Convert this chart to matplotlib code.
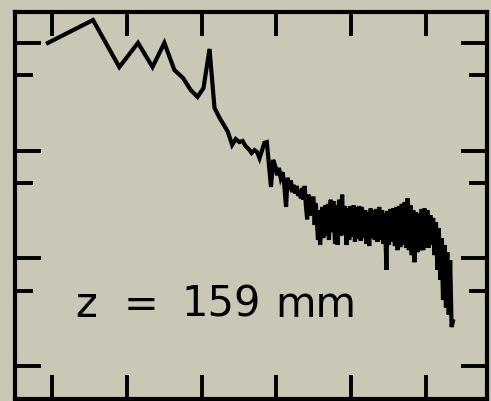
import matplotlib.pyplot as plt
import numpy as np
from matplotlib.ticker import FixedLocator, NullFormatter

# spectrum (log-log), low-frequency part: one point per bin
freq_low = [0.94, 1.88, 2.82, 3.76, 4.70, 5.64, 6.58, 7.52, 8.46, 9.40,
            10.3, 11.3, 12.2, 13.2, 14.1, 15.0, 16.0, 16.9, 17.9, 18.8,
            19.7, 20.7, 21.6, 22.6, 23.5, 24.4, 25.4, 26.3, 27.3, 28.2,
            29.1, 30.1, 31.0, 32.0, 32.9, 33.8, 34.8, 35.7, 36.7, 37.6,
            38.5, 39.5, 40.4, 41.4, 42.3, 43.2, 44.2, 45.1, 46.1, 47.0,
            47.9, 48.9, 49.8, 50.8, 51.7, 52.6, 53.6, 54.5]
psd_low = [1000, 1630, 597, 1000, 597, 1000, 560, 472, 365, 315,
           381, 878, 249, 201, 173, 149, 113, 128, 120, 123,
           110, 103, 95, 101, 97, 85, 101, 118, 120, 73,
           46, 82, 73, 59, 69, 56, 63, 48, 30, 56,
           43, 53, 41, 48, 40, 47, 38, 43, 36, 45,
           35, 47, 31, 23, 39, 35, 25, 36]

# high-frequency part: dense noisy band, sampled peak/trough
freq_high = [56, 57, 58, 60, 61, 62, 64, 65, 67, 68, 70, 71, 73, 74, 76, 78,
             80, 81, 83, 85, 87, 89, 91, 93, 95, 97, 99, 101, 104, 106, 108,
             111, 113, 116, 118, 121, 124, 126, 129, 132, 135, 138, 141, 144,
             147, 150, 154, 157, 161, 164, 168, 172, 175, 179, 183, 187, 191,
             196, 200, 204, 209, 213, 218, 223, 228, 233, 238, 243, 249, 254,
             260, 265, 271, 277, 283, 290, 296, 303, 309, 316, 323, 330, 338,
             345, 353, 361, 369, 377, 385, 394, 402, 411, 420, 430, 439, 449,
             459, 469, 479]
psd_high = [36, 20.4, 32.6, 14.8, 28, 13.3, 30, 15.4, 31, 16.1, 32, 14.8,
            35, 17.5, 34, 13.6, 31, 13.3, 35, 16.1, 39, 16.4, 30.6, 13.3,
            29, 14.8, 30.6, 15.8, 31, 14.2, 30, 15.1, 30.6, 14.5, 30, 15.4,
            28, 13.6, 26.9, 13.0, 29, 15.4, 28, 14.8, 28.7, 14.2, 30, 14.8,
            28, 13.6, 26, 7.8, 27.5, 13.3, 28.7, 14.2, 29, 13.0, 30, 11.9,
            30.6, 12.7, 32, 13.3, 33.3, 12.5, 36, 11.9, 31, 10.7, 28, 9.2,
            26.9, 11.4, 26, 11.9, 28.7, 11.9, 29, 12.5, 28, 12.5, 25.2, 13.3,
            23.7, 10.7, 21.7, 7.8, 19.1, 6.3, 15.4, 4.1, 13.3, 3.5, 11.4, 3.0,
            9.6, 2.3, 2.6]

label_parts = ["z", "=", "159", "mm"]
label_x = [0.127, 0.231, 0.352, 0.551]

bg = "#c9c8b6"
fig = plt.figure(figsize=(4.91, 4.01), dpi=100, facecolor=bg)
ax = fig.add_axes([15 / 491, 2 / 401, 472 / 491, 387 / 401])
ax.set_facecolor(bg)

ax.plot(freq_low + freq_high, psd_low + psd_high, color="black", lw=3.0,
        solid_joinstyle="miter")

ax.set_xscale("log")
ax.set_yscale("log")
ax.set_xlim(0.566, 809)
ax.set_ylim(0.494, 1936)

ax.xaxis.set_major_locator(FixedLocator(10 ** (np.arange(6) / 2)))
ax.xaxis.set_minor_locator(FixedLocator([]))
ax.yaxis.set_major_locator(FixedLocator([1, 10, 100, 1000]))
ax.yaxis.set_minor_locator(FixedLocator([5, 50, 500]))
for a in (ax.xaxis, ax.yaxis):
    a.set_major_formatter(NullFormatter())
    a.set_minor_formatter(NullFormatter())

ax.tick_params(axis="x", which="major", direction="in", length=17.5, width=2.8,
               top=True, bottom=True)
ax.tick_params(axis="y", which="major", direction="in", length=19, width=2.8,
               left=True, right=True)
ax.tick_params(axis="y", which="minor", direction="in", length=13, width=2.8,
               left=True, right=True)
for s in ax.spines.values():
    s.set_linewidth(3)

for txt, xp in zip(label_parts, label_x):
    ax.text(xp, 0.212, txt, transform=ax.transAxes, fontsize=30,
            family="DejaVu Sans", ha="left", va="baseline")

fig.savefig("out.png", dpi=100, facecolor=bg)
